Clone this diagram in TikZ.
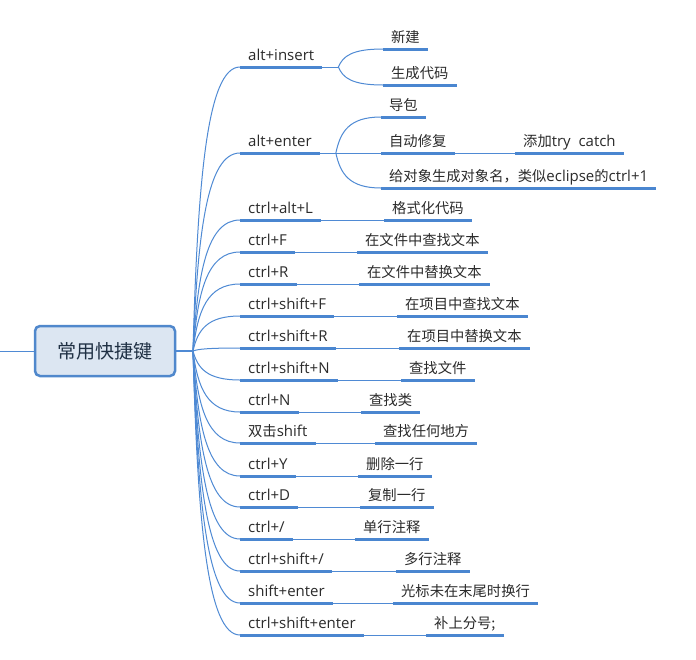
\documentclass[tikz,border=0pt]{standalone}
\usepackage{fontspec}
\setmainfont{Open Sans}
\newfontfamily\cjk{Noto Sans CJK SC}[Scale=0.953]
\usetikzlibrary{calc}
\definecolor{ln}{HTML}{4F8AD4}
\definecolor{ul}{HTML}{4A86D0}
\definecolor{rootfill}{HTML}{DCE6F2}
\definecolor{rootdraw}{HTML}{5088CC}
\definecolor{roottext}{HTML}{1F3044}
\definecolor{txt}{HTML}{2B2B2B}
\newcommand\C[1]{{\cjk #1}}
\newcommand\brcurve[2]{\draw[br] let \p1=(#1), \p2=(#2) in (\p1) .. controls ({\x1+0.1*(\x2-\x1)},{\y1+0.6*(\y2-\y1)}) and ({\x1+0.3*(\x2-\x1)},\y2) .. (\p2);}
\begin{document}
\begin{tikzpicture}[x=1pt,y=-1pt,
  lbl/.style={anchor=south west, inner xsep=8pt, inner ysep=0pt, text height=11pt, text depth=6pt, font=\fontsize{15}{18}\selectfont, text=txt},
  uline/.style={draw=ul, line width=3pt},
  br/.style={draw=ln, line width=1pt},
  cn/.style={draw=ln, line width=1pt},
  rootbox/.style={draw=rootdraw, fill=rootfill, line width=2.5pt, rounded corners=5pt, minimum width=140pt, minimum height=50pt, inner sep=0pt, font=\fontsize{20}{24}\selectfont, text=roottext}
]
\useasboundingbox[fill=white] (0,0) rectangle (696,659);

% root
\node[rootbox] (root) at (105,351) {\C{常用快捷键}};
\coordinate (lft) at (0,351);
\coordinate (hub) at (193,351);
\draw[cn] (lft) -- (root.west);
\draw[draw=ln, line width=2pt] (root.east) -- (hub);

% branches
\node[lbl] (b1) at (240,67) {alt+insert};
\node[lbl] (b2) at (240,153) {alt+enter};
\node[lbl] (b3) at (240,220) {ctrl+alt+L};
\node[lbl] (b4) at (240,252) {ctrl+F};
\node[lbl] (b5) at (240,284) {ctrl+R};
\node[lbl] (b6) at (240,316) {ctrl+shift+F};
\node[lbl] (b7) at (240,348) {ctrl+shift+R};
\node[lbl] (b8) at (240,380) {ctrl+shift+N};
\node[lbl] (b9) at (240,412) {ctrl+N};
\node[lbl] (b10) at (240,443) {\C{双击}shift};
\node[lbl] (b11) at (240,476) {ctrl+Y};
\node[lbl] (b12) at (240,507) {ctrl+D};
\node[lbl] (b13) at (240,539) {ctrl+/};
\node[lbl] (b14) at (240,571) {ctrl+shift+/};
\node[lbl] (b15) at (240,603) {shift+enter};
\node[lbl] (b16) at (240,635) {ctrl+shift+enter};

% children
\node[lbl] (c1a) at (383,49) {\C{新建}};
\node[lbl] (c1b) at (383,85) {\C{生成代码}};
\node[lbl] (c2a) at (381,117) {\C{导包}};
\node[lbl] (c2b) at (381,153) {\C{自动修复}};
\node[lbl] (c2c) at (381,188) {\C{给对象生成对象名，类似}eclipse\C{的}ctrl+1};
\node[lbl] (c2d) at (515,153) {\C{添加}try\ \ catch};
\node[lbl] (c3) at (384,220) {\C{格式化代码}};
\node[lbl] (c4) at (357,252) {\C{在文件中查找文本}};
\node[lbl] (c5) at (359,284) {\C{在文件中替换文本}};
\node[lbl] (c6) at (397,316) {\C{在项目中查找文本}};
\node[lbl] (c7) at (399,348) {\C{在项目中替换文本}};
\node[lbl] (c8) at (401,380) {\C{查找文件}};
\node[lbl] (c9) at (361,412) {\C{查找类}};
\node[lbl] (c10) at (375,443) {\C{查找任何地方}};
\node[lbl] (c11) at (358,476) {\C{删除一行}};
\node[lbl] (c12) at (360,507) {\C{复制一行}};
\node[lbl] (c13) at (355,539) {\C{单行注释}};
\node[lbl] (c14) at (396,571) {\C{多行注释}};
\node[lbl] (c15) at (393,603) {\C{光标未在末尾时换行}};
\node[lbl] (c16) at (426,635) {\C{补上分号;}};

% hub curves
\foreach \b in {b1,b2,b3,b4,b5,b6,b7,b8,b9,b10,b11,b12,b13,b14,b15,b16}{
  \brcurve{hub}{\b.south west}
}

% forks
\coordinate (f1) at ($(b1.south east)+(16,0)$);
\coordinate (f2) at ($(b2.south east)+(16,0)$);
\draw[cn] (b1.south east) -- (f1);
\draw[cn] (b2.south east) -- (f2);
\brcurve{f1}{c1a.south west}
\brcurve{f1}{c1b.south west}
\brcurve{f2}{c2a.south west}
\draw[cn] (f2) -- (c2b.south west);
\brcurve{f2}{c2c.south west}
\draw[cn] (c2b.south east) -- (c2d.south west);

% single-child connectors
\foreach \i in {3,...,16}{
  \draw[cn] (b\i.south east) -- (c\i.south west);
}

% underlines
\foreach \n in {b1,b2,b3,b4,b5,b6,b7,b8,b9,b10,b11,b12,b13,b14,b15,b16,c1a,c1b,c2a,c2b,c2c,c2d,c3,c4,c5,c6,c7,c8,c9,c10,c11,c12,c13,c14,c15,c16}{
  \draw[uline] (\n.south west) -- (\n.south east);
}
\end{tikzpicture}
\end{document}
